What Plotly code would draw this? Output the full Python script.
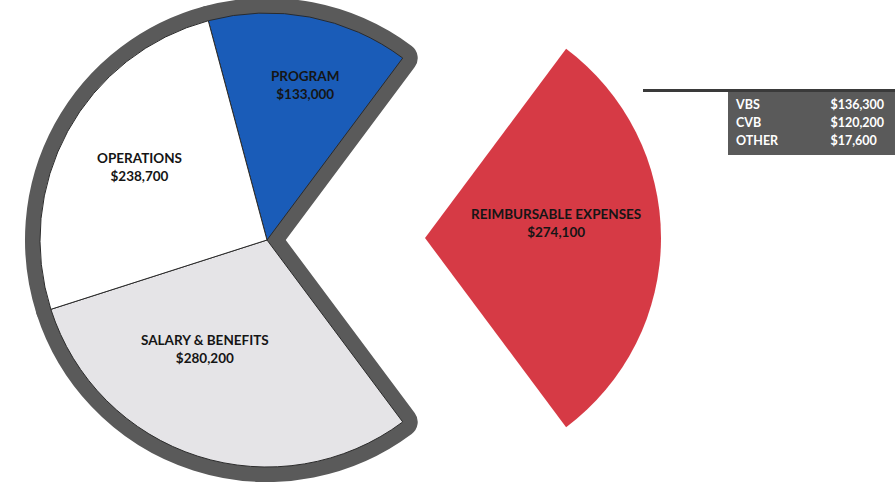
import plotly.graph_objects as go

# ---- data ----
categories = ["PROGRAM", "REIMBURSABLE EXPENSES", "SALARY & BENEFITS", "OPERATIONS"]
values = [133000, 274100, 280200, 238700]
pulled = "REIMBURSABLE EXPENSES"

breakdown_labels = ["VBS", "CVB", "OTHER"]
breakdown_values = [136300, 120200, 17600]

# ---- styles ----
slice_colors = {"PROGRAM": "#1a5cb8", "REIMBURSABLE EXPENSES": "#d63a45",
                "SALARY & BENEFITS": "#e5e4e7", "OPERATIONS": "#ffffff"}
ring_color = "#5a5a5a"
W, H = 895, 482
FONT = "Lato"
LABEL_SIZE = 13.5

total = sum(values)
idx = categories.index(pulled)
before = sum(values[:idx])
# rotate so the pulled slice is centred at 3 o'clock
rotation = 90 - (before + values[idx] / 2) / total * 360

def money(v):
    return "${:,.0f}".format(v)

# main pie geometry (pixels)
cx, cy, r_in, ring = 267, 240, 227, 30
main_dom = dict(x=[(cx - r_in) / W, (cx + r_in) / W],
                y=[(H - cy - r_in) / H, (H - cy + r_in) / H])
# pulled slice pie geometry
pcx, pcy, pr = 425, 238, 236
pull_dom = dict(x=[(pcx - pr) / W, (pcx + pr) / W],
                y=[(H - pcy - pr) / H, (H - pcy + pr) / H])

common = dict(labels=categories, values=values, sort=False, direction="clockwise",
              rotation=rotation, textinfo="none", hoverinfo="label+value",
              showlegend=False)

fig = go.Figure()
# dark ring / border
fig.add_trace(go.Pie(
    **common, domain=main_dom,
    marker=dict(colors=[ring_color if c != pulled else "rgba(0,0,0,0)" for c in categories],
                line=dict(color=[ring_color if c != pulled else "rgba(0,0,0,0)" for c in categories],
                          width=ring))))
# coloured slices
fig.add_trace(go.Pie(
    **common, domain=main_dom,
    marker=dict(colors=[slice_colors[c] if c != pulled else "rgba(0,0,0,0)" for c in categories],
                line=dict(color=["#2b2b2b" if c != pulled else "rgba(0,0,0,0)" for c in categories],
                          width=1))))
# exploded slice
fig.add_trace(go.Pie(
    **common, domain=pull_dom,
    marker=dict(colors=[slice_colors[c] if c == pulled else "rgba(0,0,0,0)" for c in categories],
                line=dict(width=0))))

# slice labels
label_pos = {"PROGRAM": (305, 85), "OPERATIONS": (139, 167),
             "SALARY & BENEFITS": (205, 349), "REIMBURSABLE EXPENSES": (556, 223)}
for c, v in zip(categories, values):
    x, y = label_pos[c]
    fig.add_annotation(x=x / W, y=1 - y / H, xref="paper", yref="paper",
                       xanchor="center", yanchor="middle",
                       text="{}<br>{}".format(c, money(v)),
                       showarrow=False, align="center",
                       font=dict(family=FONT, size=LABEL_SIZE, color="#151515", weight="bold"))

# breakdown table background + leader line
fig.add_shape(type="rect", xref="paper", yref="paper", layer="below",
              x0=728 / W, x1=1.0, y0=1 - 155 / H, y1=1 - 90 / H,
              fillcolor=ring_color, line=dict(width=0))
fig.add_shape(type="line", xref="paper", yref="paper",
              x0=643 / W, x1=1.0, y0=1 - 90.5 / H, y1=1 - 90.5 / H,
              line=dict(color="#3a3a3a", width=3))

# breakdown table
fig.add_trace(go.Table(
    domain=dict(x=[728 / W, 1.0], y=[1 - 155 / H, 1 - 91 / H]),
    columnwidth=[95, 72],
    header=dict(values=["", ""], height=1, fill_color=ring_color, line=dict(width=0),
                font=dict(size=1, color=ring_color)),
    cells=dict(values=[breakdown_labels, [money(v) for v in breakdown_values]],
               fill_color="rgba(0,0,0,0)", line=dict(width=0), height=18, align="left",
               font=dict(family=FONT, size=12.5, color="#ffffff", weight="bold"))))

fig.update_layout(width=W, height=H, margin=dict(l=0, r=0, t=0, b=0),
                  paper_bgcolor="white", plot_bgcolor="white",
                  font=dict(family=FONT))
fig.write_html("out.html", config={"displayModeBar": False},
               post_script="document.body.style.margin='0';")
